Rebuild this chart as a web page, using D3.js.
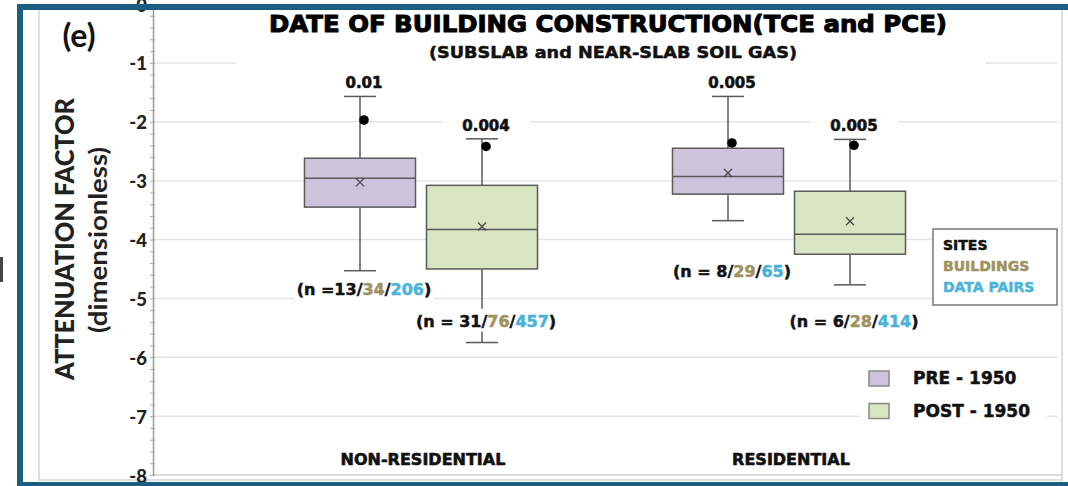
<!DOCTYPE html>
<html><head><meta charset="utf-8">
<script src="https://cdn.jsdelivr.net/npm/d3@7"></script>
<style>html,body{margin:0;padding:0;background:#fff;} svg{display:block;}
.heavy{paint-order:stroke;stroke-linejoin:round;}
</style>
</head><body>
<svg id="chart" width="1068" height="486"></svg>
<script>
// ---------- DATA ----------
const categories = ["NON-RESIDENTIAL", "RESIDENTIAL"];
const periods = ["PRE - 1950", "POST - 1950"];
const boxCategory = ["NON-RESIDENTIAL", "NON-RESIDENTIAL", "RESIDENTIAL", "RESIDENTIAL"];
const boxPeriod = ["PRE - 1950", "POST - 1950", "PRE - 1950", "POST - 1950"];
const whiskerMax = [-1.57, -2.29, -1.57, -2.30];
const q3 = [-2.62, -3.08, -2.45, -3.18];
const median = [-2.96, -3.83, -2.93, -3.91];
const q1 = [-3.45, -4.50, -3.23, -4.25];
const whiskerMin = [-4.53, -5.75, -3.68, -4.77];
const mean = [-3.03, -3.78, -2.87, -3.69];
const outlier = [-1.97, -2.42, -2.36, -2.40];
const maxLabels = ["0.01", "0.004", "0.005", "0.005"];
const nPrefix = ["(n =", "(n = ", "(n = ", "(n = "];
const nSites = [13, 31, 8, 6];
const nBuildings = [34, 76, 29, 28];
const nPairs = [206, 457, 65, 414];
const nLabelAt = [-4.94, -5.48, -4.63, -5.48];   // anchor (axis units) of the n annotations
const yTicks = [0, -1, -2, -3, -4, -5, -6, -7, -8];
const countLegend = ["SITES", "BUILDINGS", "DATA PAIRS"];

// ---------- STYLE ----------
const W = 1068, H = 486;
const BLUE = "#1a5f82";
const periodFill = {"PRE - 1950": "#cdc3dd", "POST - 1950": "#d9e4c0"};
const countColor = ["#111", "#a09160", "#4cb3d8"];
const BOLD = "'DejaVu Sans', sans-serif";
const CAL = "Lato, 'Open Sans', sans-serif";

const svg = d3.select("#chart");
svg.append("rect").attr("width", W).attr("height", H).attr("fill", "#fff");

// inner frame
const frame = svg.append("g").attr("stroke", "#d4d4d4").attr("stroke-width", 1.5);
frame.append("line").attr("x1", 39).attr("x2", 39).attr("y1", 10).attr("y2", 481);
frame.append("line").attr("x1", 1062).attr("x2", 1062).attr("y1", 10).attr("y2", 481);
frame.append("line").attr("x1", 39).attr("x2", 1062).attr("y1", 480).attr("y2", 480);

// scales
const y = d3.scaleLinear().domain([-8, 0]).range([475, 4]);
const x0 = d3.scaleBand().domain(categories).range([237, 973]);
const x1 = d3.scaleBand().domain(periods).range([62, 306]);
const boxW = x1.bandwidth() * 0.91;
const AX = 153;

// gridlines
svg.append("g").selectAll("line").data(yTicks.filter(d => d > -8 && d < 0)).join("line")
  .attr("x1", AX).attr("x2", 1058).attr("y1", d => y(d)).attr("y2", d => y(d))
  .attr("stroke", "#e4e4e4").attr("stroke-width", 1.5);
// x axis baseline
svg.append("line").attr("x1", AX).attr("x2", 1062).attr("y1", y(-8)).attr("y2", y(-8))
  .attr("stroke", "#cfcfcf").attr("stroke-width", 1.5);

// y axis with minor ticks
const minor = d3.range(-8, 0.001, 0.2).map(v => Math.round(v * 10) / 10);
const gMinor = svg.append("g").attr("transform", `translate(${AX},0)`)
  .call(d3.axisLeft(y).tickValues(minor).tickSize(3).tickSizeOuter(0).tickFormat(""));
gMinor.select(".domain").attr("stroke", "#9a9a9a").attr("stroke-width", 1.5);
gMinor.selectAll(".tick line").attr("stroke", "#aaa").attr("x2", -3).attr("x1", 2);
const gY = svg.append("g").attr("transform", `translate(${AX - 6},0)`)
  .call(d3.axisLeft(y).tickValues(yTicks).tickSize(0).tickPadding(0).tickFormat(d => String(d)));
gY.select(".domain").remove();
gY.selectAll("text").attr("font-family", CAL).attr("font-weight", 900)
  .attr("font-size", 18.5).attr("fill", "#222").attr("dy", "0.38em");

// title block
svg.append("rect").attr("x", 236).attr("y", 11).attr("width", 749).attr("height", 57).attr("fill", "#fff");
svg.append("text").attr("class", "heavy").attr("x", 608).attr("y", 32).attr("text-anchor", "middle")
  .attr("font-family", BOLD).attr("font-weight", 700).attr("font-size", 23)
  .attr("stroke", "#000").attr("stroke-width", 1)
  .attr("textLength", 678).attr("lengthAdjust", "spacingAndGlyphs").attr("fill", "#000")
  .text("DATE OF BUILDING CONSTRUCTION(TCE and PCE)");
svg.append("text").attr("class", "heavy").attr("x", 613).attr("y", 58).attr("text-anchor", "middle")
  .attr("font-family", BOLD).attr("font-weight", 700).attr("font-size", 16)
  .attr("stroke", "#111").attr("stroke-width", 0.5)
  .attr("textLength", 368).attr("lengthAdjust", "spacingAndGlyphs").attr("fill", "#111")
  .text("(SUBSLAB and NEAR-SLAB SOIL GAS)");

// (e)
svg.append("text").attr("x", 79).attr("y", 47).attr("text-anchor", "middle")
  .attr("font-family", CAL).attr("font-weight", 700).attr("font-size", 32).attr("fill", "#111").text("(e)");

// axis title
svg.append("text").attr("transform", "translate(74,239) rotate(-90)").attr("text-anchor", "middle")
  .attr("font-family", CAL).attr("font-weight", 900).attr("font-size", 26)
  .attr("textLength", 282).attr("lengthAdjust", "spacingAndGlyphs").attr("fill", "#222")
  .text("ATTENUATION FACTOR");
svg.append("text").attr("transform", "translate(107,240) rotate(-90)").attr("text-anchor", "middle")
  .attr("font-family", CAL).attr("font-weight", 700).attr("font-size", 25)
  .attr("textLength", 186).attr("lengthAdjust", "spacingAndGlyphs").attr("fill", "#222")
  .text("(dimensionless)");

// category labels
svg.append("g").selectAll("text").data(categories).join("text").attr("class", "heavy")
  .attr("x", d => x0(d) + x0.bandwidth() / 2 + 2).attr("y", 465).attr("text-anchor", "middle")
  .attr("font-family", BOLD).attr("font-weight", 700).attr("font-size", 16)
  .attr("stroke", "#111").attr("stroke-width", 0.6).attr("fill", "#111")
  .text(d => d);

// boxes
const rows = boxCategory.map((c, i) => ({
  c, p: boxPeriod[i], hi: whiskerMax[i], q3: q3[i], med: median[i], q1: q1[i], lo: whiskerMin[i],
  mean: mean[i], out: outlier[i], lab: maxLabels[i], pre: nPrefix[i],
  s: nSites[i], b: nBuildings[i], n: nPairs[i], nAt: nLabelAt[i]
}));
const cx = d => x0(d.c) + x1(d.p) + x1.bandwidth() / 2;
const STK = "#5a5a5a";
const gb = svg.append("g");
rows.forEach(d => {
  const g = gb.append("g");
  const X = cx(d);
  g.append("line").attr("x1", X).attr("x2", X).attr("y1", y(d.hi)).attr("y2", y(d.lo))
    .attr("stroke", STK).attr("stroke-width", 1.5);
  [d.hi, d.lo].forEach(v => g.append("line").attr("x1", X - 16).attr("x2", X + 16)
    .attr("y1", y(v)).attr("y2", y(v)).attr("stroke", STK).attr("stroke-width", 1.5));
  g.append("rect").attr("x", X - boxW / 2).attr("width", boxW)
    .attr("y", y(d.q3)).attr("height", y(d.q1) - y(d.q3))
    .attr("fill", periodFill[d.p]).attr("stroke", STK).attr("stroke-width", 1.5);
  g.append("line").attr("x1", X - boxW / 2).attr("x2", X + boxW / 2)
    .attr("y1", y(d.med)).attr("y2", y(d.med)).attr("stroke", STK).attr("stroke-width", 1.5);
  const my = y(d.mean), s = 4;
  g.append("path").attr("d", `M${X - s},${my - s}L${X + s},${my + s}M${X - s},${my + s}L${X + s},${my - s}`)
    .attr("stroke", "#444").attr("stroke-width", 1.2).attr("fill", "none");
  g.append("circle").attr("cx", X + 4).attr("cy", y(d.out)).attr("r", 4.8).attr("fill", "#000");
  // max label
  const ly = y(d.hi) - 8;
  g.append("rect").attr("x", X + 4 - 44).attr("y", ly - 15).attr("width", 88).attr("height", 19).attr("fill", "#fff");
  g.append("text").attr("class", "heavy").attr("x", X + 4).attr("y", ly).attr("text-anchor", "middle")
    .attr("font-family", BOLD).attr("font-weight", 700).attr("font-size", 15)
    .attr("stroke", "#111").attr("stroke-width", 0.6).attr("fill", "#111")
    .text(d.lab);
  // n label
  const ny = y(d.nAt);
  const t = g.append("text").attr("class", "heavy").attr("x", X + 4).attr("y", ny).attr("text-anchor", "middle")
    .attr("font-family", BOLD).attr("font-weight", 700).attr("font-size", 16).attr("stroke-width", 0.5);
  const parts = [[d.pre + d.s + "/", 0], [d.b, 1], ["/", 0], [d.n, 2], [")", 0]];
  parts.forEach(([txt, ci]) => t.append("tspan").attr("fill", countColor[ci]).attr("stroke", countColor[ci]).text(txt));
  const bb = t.node().getBBox();
  g.insert("rect", "text:last-of-type").attr("x", bb.x - 2).attr("y", ny - 18)
    .attr("width", bb.width + 4).attr("height", 23).attr("fill", "#fff");
});

// counts legend
const lg = svg.append("g");
lg.append("rect").attr("x", 933).attr("y", 229).attr("width", 124).attr("height", 76)
  .attr("fill", "#fff").attr("stroke", "#777").attr("stroke-width", 1.5);
lg.selectAll("text").data(countLegend).join("text").attr("class", "heavy")
  .attr("x", 943).attr("y", (d, i) => 250 + i * 20.8)
  .attr("font-family", BOLD).attr("font-weight", 700).attr("font-size", 14)
  .attr("stroke", (d, i) => countColor[i]).attr("stroke-width", 0.5)
  .attr("fill", (d, i) => countColor[i]).text(d => d);

// period legend
const pl = svg.append("g");
pl.append("rect").attr("x", 860).attr("y", 362).attr("width", 187).attr("height", 64).attr("fill", "#fff");
periods.forEach((p, i) => {
  pl.append("rect").attr("x", 869).attr("y", 371 + i * 32.5).attr("width", 20).attr("height", 15)
    .attr("fill", periodFill[p]).attr("stroke", "#888").attr("stroke-width", 1.5);
  pl.append("text").attr("class", "heavy").attr("x", 913).attr("y", 384 + i * 33)
    .attr("font-family", BOLD).attr("font-weight", 700).attr("font-size", 17)
    .attr("stroke", "#111").attr("stroke-width", 0.5).attr("fill", "#111").text(p);
});

// outer blue frame
svg.append("rect").attr("x", 17).attr("y", 4).attr("width", W - 17).attr("height", 6).attr("fill", BLUE);
svg.append("rect").attr("x", 17).attr("y", 4).attr("width", 6).attr("height", H - 4).attr("fill", BLUE);
svg.append("rect").attr("x", 17).attr("y", 482).attr("width", W - 17).attr("height", 4).attr("fill", BLUE);
// small dark mark at left edge
svg.append("rect").attr("x", 0).attr("y", 257).attr("width", 3).attr("height", 25).attr("fill", "#444");
</script>
</body></html>
